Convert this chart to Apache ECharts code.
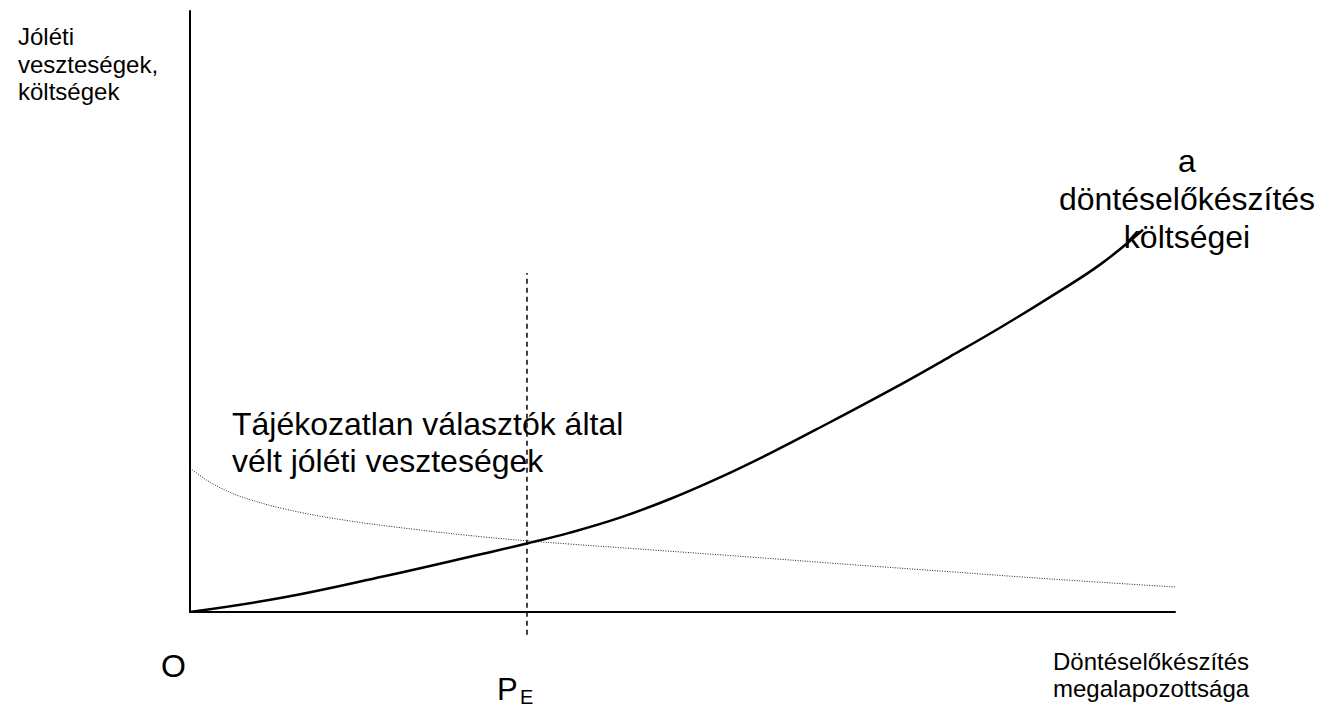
<!DOCTYPE html>
<html>
<head>
<meta charset="utf-8">
<title>Döntéselőkészítés</title>
<script src="https://cdn.jsdelivr.net/npm/echarts@6/dist/echarts.min.js"></script>
<style>
   html, body { margin: 0 ; padding: 0 ; background: #fff ; }
   #Chart { width: 1333px ; height: 708px ; }
</style>
</head>
<body>
<div id="Chart"></div>
<script>
//a döntéselőkészítés költségei
var costX = [ 0, 9.44, 19.59, 29.75, 34.21, 38.58, 43.65, 48.73, 53.81, 58.88, 63.96, 72.08, 77.16, 82.23, 87.31, 92.39, 96.75 ] ;
var costY = [ 0, 2.40, 5.90, 9.70, 11.40, 13.20, 15.70, 18.80, 22.40, 26.40, 30.70, 37.80, 42.50, 47.30, 52.40, 57.80, 63.60 ] ;
//vélt jóléti veszteségek
var lossX = [ 0, 1.02, 2.34, 4.37, 6.09, 9.44, 15.23, 23.05, 29.75, 34.21, 38.58, 46.70, 56.85, 67.01, 77.16, 87.31, 100 ] ;
var lossY = [ 23.96, 22.70, 21.30, 19.70, 18.70, 17.20, 15.40, 13.70, 12.50, 11.85, 11.30, 10.35, 9.15, 7.90, 6.70, 5.50, 4.16 ] ;
//P_E függőleges vonal
var peX = 34.21 ;
var peRange = [ -3.8, 56.4 ] ;

(function(){
   var font = '"Liberation Sans", Arial, sans-serif' ;
   function pairs( xs, ys )
   {
      var out = [] ;
      for( var i = 0; i < xs.length; ++i )
      {
         out.push( [ xs[i], ys[i] ] ) ;
      }
      return out ;
   }
   function label( x, y, text, size, lh, align, valign )
   {
      return {
         type: 'text', x: x, y: y, silent: true,
         style: { text: text, fill: '#000', font: size + 'px ' + font, lineHeight: lh,
                  textAlign: align || 'left', textVerticalAlign: valign || 'top' }
      } ;
   }
   var chart = echarts.init( document.getElementById( 'Chart' ), null, { renderer: 'svg' } ) ;
   var option = {
      animation: false,
      backgroundColor: '#fff',
      grid: { left: 190, right: 158, top: 11, bottom: 96 },
      xAxis: {
         type: 'value', min: 0, max: 100,
         axisLine: { show: true, onZero: true, lineStyle: { color: '#000', width: 2 } },
         axisTick: { show: false }, axisLabel: { show: false }, splitLine: { show: false }
      },
      yAxis: {
         type: 'value', min: 0, max: 100,
         axisLine: { show: true, lineStyle: { color: '#000', width: 2 } },
         axisTick: { show: false }, axisLabel: { show: false }, splitLine: { show: false }
      },
      series: [
         {
            name: 'költségek', type: 'line', smooth: 0.4, showSymbol: false, symbol: 'none',
            data: pairs( costX, costY ),
            lineStyle: { color: '#000', width: 2.5 }, z: 4
         },
         {
            name: 'vélt veszteségek', type: 'line', smooth: 0.4, showSymbol: false, symbol: 'none',
            data: pairs( lossX, lossY ),
            lineStyle: { color: '#222', width: 1, type: [ 1, 1.5 ] }, z: 3
         },
         {
            name: 'PE', type: 'line', showSymbol: false, symbol: 'none', clip: false,
            data: [ [ peX, peRange[0] ], [ peX, peRange[1] ] ],
            lineStyle: { color: '#111', width: 1.6, type: [ 5, 4 ] }, z: 2
         }
      ],
      graphic: [
         label( 18, 23, 'Jóléti\nveszteségek,\nköltségek', 24, 27.5 ),
         label( 232, 405, 'Tájékozatlan választók által\nvélt jóléti veszteségek', 32, 37 ),
         label( 1187, 142, 'a\ndöntéselőkészítés\nköltségei', 32, 38, 'center' ),
         label( 161, 666, 'O', 32, 38, 'left', 'middle' ),
         label( 497, 689, 'P', 31, 36, 'left', 'middle' ),
         label( 520, 697, 'E', 20, 22, 'left', 'middle' ),
         label( 1053, 648, 'Döntéselőkészítés\nmegalapozottsága', 24, 27 )
      ]
   } ;
   chart.setOption( option ) ;
}());
</script>
</body>
</html>
